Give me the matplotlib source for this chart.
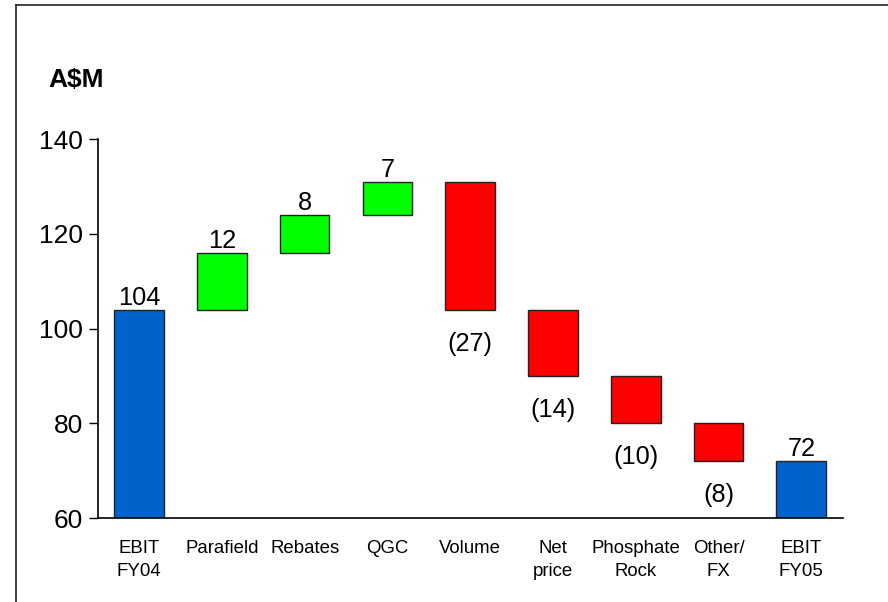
import matplotlib
matplotlib.use("Agg")
import matplotlib.pyplot as plt
from matplotlib.lines import Line2D

plt.rcParams['font.family'] = ['Liberation Sans', 'DejaVu Sans']

categories = ['EBIT\nFY04', 'Parafield', 'Rebates', 'QGC', 'Volume',
              'Net\nprice', 'Phosphate\nRock', 'Other/\nFX', 'EBIT\nFY05']
changes = [104, 12, 8, 7, -27, -14, -10, -8, 72]
kinds = ['total', 'up', 'up', 'up', 'down', 'down', 'down', 'down', 'total']

colors = {'total': '#0063CC', 'up': '#00FF00', 'down': '#FF0000'}

# build waterfall bottoms/heights
bottoms, heights = [], []
level = 0
for v, k in zip(changes, kinds):
    if k == 'total':
        bottoms.append(60)
        heights.append(v - 60)
        level = v
    elif v >= 0:
        bottoms.append(level)
        heights.append(v)
        level += v
    else:
        bottoms.append(level + v)
        heights.append(-v)
        level += v

fig = plt.figure(figsize=(8.88, 6.02), dpi=100)
ax = fig.add_axes([0.110, 0.1395, 0.839, 0.6295])

x = range(len(categories))
ax.bar(x, heights, bottom=bottoms, width=0.6,
       color=[colors[k] for k in kinds], edgecolor='#222222', linewidth=1.0)

for i, (v, k) in enumerate(zip(changes, kinds)):
    if k == 'down':
        ax.annotate(f'({-v})', (i, bottoms[i]), xytext=(0, -24.5),
                    textcoords='offset points', ha='center', va='center',
                    fontsize=18.3)
    else:
        ax.annotate(str(v), (i, bottoms[i] + heights[i]), xytext=(0, 3.5),
                    textcoords='offset points', ha='center', va='baseline',
                    fontsize=18.3)

ax.set_xlim(-0.5, 8.5)
ax.set_ylim(60, 140)
ax.set_yticks([60, 80, 100, 120, 140])
ax.set_xticks(list(x))
ax.set_xticklabels(categories, fontsize=13.4, linespacing=1.45, va='top')
ax.tick_params(axis='x', length=0, pad=16)
ax.tick_params(axis='y', length=6.5, width=1, pad=4, labelsize=19, direction='out')

for s in ['top', 'right']:
    ax.spines[s].set_visible(False)
for s in ['left', 'bottom']:
    ax.spines[s].set_linewidth(1.2)

fig.text(48 / 888, 1 - 80 / 602, 'A$M', fontsize=19, fontweight='bold',
         ha='left', va='center')

# frame lines (top and left only)
fig.add_artist(Line2D([16 / 888, 1], [1 - 5 / 602, 1 - 5 / 602],
                      transform=fig.transFigure, color='#222222', lw=1.2))
fig.add_artist(Line2D([16 / 888, 16 / 888], [0, 1 - 5 / 602],
                      transform=fig.transFigure, color='#222222', lw=1.2))

fig.savefig('out.png', dpi=100)
